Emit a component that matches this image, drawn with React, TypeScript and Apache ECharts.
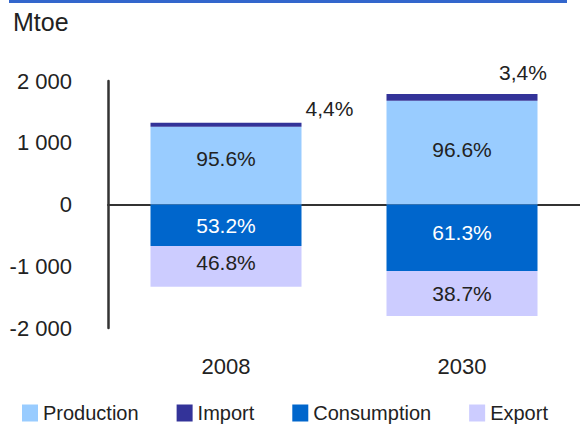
import React, { useEffect, useRef } from "react";
import * as echarts from "echarts";

const categories = ["2008", "2030"];
const production = [1260, 1680];
const imports = [65, 110];
const consumption = [-672, -1077];
const exportVals = [-659, -729];
const productionPct = ["95.6%", "96.6%"];
const importPct = ["4,4%", "3,4%"];
const consumptionPct = ["53.2%", "61.3%"];
const exportPct = ["46.8%", "38.7%"];
const yTickLabels = ["-2 000", "-1 000", "0", "1 000", "2 000"];
const seriesNames = ["Production", "Import", "Consumption", "Export"];

const FONT = "'Liberation Sans', Arial, sans-serif";

export default function App() {
  const ref = useRef<HTMLDivElement>(null);
  useEffect(() => {
    if (!ref.current) return;
    const chart = echarts.init(ref.current, null, { renderer: "svg" });
    const option: any = {
      animation: false,
      backgroundColor: "#ffffff",
      textStyle: { fontFamily: FONT },
      graphic: [
        { type: "rect", left: 9, top: 0, shape: { width: 558, height: 3 }, style: { fill: "#3366cc" } },
        {
          type: "text",
          left: 13,
          top: 9,
          style: { text: "Mtoe", fontFamily: FONT, fontSize: 25, fill: "#222" },
        },
      ],
      grid: { left: 108, right: 0, top: 81, bottom: 98, containLabel: false },
      legend: {
        left: 17,
        top: 397,
        icon: "rect",
        itemWidth: 16,
        itemHeight: 17,
        itemGap: 38,
        data: seriesNames,
        textStyle: { fontFamily: FONT, fontSize: 20, color: "#222", lineHeight: 22 },
      },
      xAxis: [
        {
          type: "category",
          data: categories,
          position: "bottom",
          axisLine: { show: false, onZero: false },
          axisTick: { show: false },
          axisLabel: { fontFamily: FONT, fontSize: 22, color: "#222", margin: 27 },
        },
        {
          type: "category",
          data: categories,
          position: "bottom",
          axisLine: { show: true, onZero: true, lineStyle: { color: "#333", width: 2 } },
          axisTick: { show: false },
          axisLabel: { show: false },
        },
      ],
      yAxis: {
        type: "value",
        min: -2000,
        max: 2000,
        interval: 1000,
        axisLine: { show: true, lineStyle: { color: "#333", width: 2.5 } },
        axisTick: { show: false },
        splitLine: { show: false },
        axisLabel: {
          fontFamily: FONT,
          fontSize: 22,
          color: "#222",
          margin: 36,
          formatter: (v: number) => yTickLabels[Math.round((v + 2000) / 1000)],
        },
      },
      series: [
        {
          name: "Production",
          type: "bar",
          stack: "total",
          barWidth: 151,
          itemStyle: { color: "#99ccff" },
          label: {
            show: true,
            position: "inside",
            fontFamily: FONT,
            fontSize: 21,
            color: "#222",
            formatter: (p: any) => productionPct[p.dataIndex],
          },
          data: production.map((v, i) => ({
            value: v,
            label: { offset: [0, i === 0 ? -7 : -3] },
          })),
        },
        {
          name: "Import",
          type: "bar",
          stack: "total",
          barWidth: 151,
          itemStyle: { color: "#333399" },
          label: {
            show: true,
            fontFamily: FONT,
            fontSize: 21,
            color: "#222",
            formatter: (p: any) => importPct[p.dataIndex],
          },
          data: imports.map((v, i) => ({
            value: v,
            label:
              i === 0
                ? { position: "right", distance: 4, offset: [0, -16] }
                : { position: "top", distance: 5, offset: [61, -6] },
          })),
        },
        {
          name: "Consumption",
          type: "bar",
          stack: "total",
          barWidth: 151,
          itemStyle: { color: "#0066cc" },
          label: {
            show: true,
            position: "inside",
            fontFamily: FONT,
            fontSize: 21,
            color: "#ffffff",
            formatter: (p: any) => consumptionPct[p.dataIndex],
          },
          data: consumption.map((v, i) => ({
            value: v,
            label: { offset: [0, i === 0 ? 0 : -5] },
          })),
        },
        {
          name: "Export",
          type: "bar",
          stack: "total",
          barWidth: 151,
          itemStyle: { color: "#ccccff" },
          label: {
            show: true,
            position: "inside",
            fontFamily: FONT,
            fontSize: 21,
            color: "#222",
            formatter: (p: any) => exportPct[p.dataIndex],
          },
          data: exportVals.map((v, i) => ({
            value: v,
            label: { offset: [0, i === 0 ? -4 : 0] },
          })),
        },
      ],
    };
    chart.setOption(option);
    return () => chart.dispose();
  }, []);
  return (
    <div
      ref={ref}
      style={{ position: "fixed", left: 0, top: 0, width: 580, height: 426 }}
    />
  );
}
